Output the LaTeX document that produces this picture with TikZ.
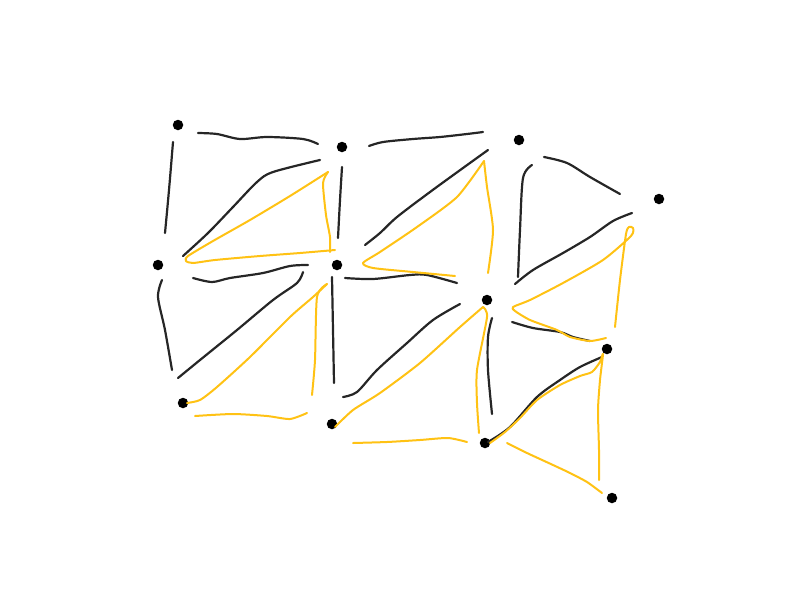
\documentclass[tikz,border=0pt]{standalone}
\begin{document}
\begin{tikzpicture}[x=1pt,y=-1pt,
  blk/.style={draw={rgb,255:red,38;green,38;blue,38},line width=2.2pt,line cap=round,line join=round},
  ylw/.style={draw={rgb,255:red,255;green,194;blue,20},line width=2pt,line cap=round,line join=round},
  dot/.style={circle,fill=black,inner sep=0pt,minimum size=10.5pt}]
\useasboundingbox (0,0) rectangle (800,600);
% dots
\node[dot] (p1) at (178,125) {};
\node[dot] (p2) at (342,147) {};
\node[dot] (p3) at (519,140) {};
\node[dot] (p4) at (659,199) {};
\node[dot] (p5) at (158,265) {};
\node[dot] (p6) at (337,265) {};
\node[dot] (p7) at (487,300) {};
\node[dot] (p8) at (607,349) {};
\node[dot] (p9) at (183,403) {};
\node[dot] (p10) at (332,424) {};
\node[dot] (p11) at (485,443) {};
\node[dot] (p12) at (612,498) {};
% black strokes
\draw[blk] plot[smooth,tension=0.5] coordinates {(198,133) (217,134) (240,139) (267,137) (303,139) (318,144)};
\draw[blk] plot[smooth,tension=0.5] coordinates {(173,142) (169,190) (165,233)};
\draw[blk] plot[smooth,tension=0.5] coordinates {(320,160) (273,172) (257,182) (233,207) (208,233) (183,256)};
\draw[blk] plot[smooth,tension=0.5] coordinates {(342,167) (340,200) (338,238)};
\draw[blk] plot[smooth,tension=0.5] coordinates {(369,146) (383,142) (413,139) (440,137) (467,134) (483,132)};
\draw[blk] plot[smooth,tension=0.5] coordinates {(488,150) (463,168) (430,192) (397,217) (380,233) (365,245)};
\draw[blk] plot[smooth,tension=0.5] coordinates {(532,165) (523,178) (520,230) (518,277)};
\draw[blk] plot[smooth,tension=0.5] coordinates {(544,157) (567,163) (590,177) (620,194)};
\draw[blk] plot[smooth,tension=0.5] coordinates {(632,213) (613,221) (590,237) (563,253) (533,270) (515,284)};
\draw[blk] plot[smooth,tension=0.5] coordinates {(193,278) (212,282) (230,278) (263,273) (290,266) (308,265)};
\draw[blk] plot[smooth,tension=0.5] coordinates {(162,280) (158,297) (165,330) (172,370)};
\draw[blk] plot[smooth,tension=0.5] coordinates {(303,272) (297,283) (273,300) (237,330) (200,360) (178,378)};
\draw[blk] plot[smooth,tension=0.5] coordinates {(332,277) (333,330) (334,383)};
\draw[blk] plot[smooth,tension=0.5] coordinates {(345,278) (373,279) (410,275) (427,275) (457,283)};
\draw[blk] plot[smooth,tension=0.5] coordinates {(460,304) (433,320) (407,343) (377,370) (357,392) (343,397)};
\draw[blk] plot[smooth,tension=0.5] coordinates {(492,318) (488,337) (488,370) (492,414)};
\draw[blk] plot[smooth,tension=0.5] coordinates {(512,322) (533,328) (560,332) (573,337) (590,341)};
\draw[blk] plot[smooth,tension=0.5] coordinates {(602,357) (580,367) (560,380) (537,397) (510,427) (488,442)};
% yellow strokes
\draw[ylw] plot[smooth,tension=0.4] coordinates {(335,250) (300,253) (260,256) (215,260) (193,263) (186,261) (188,256) (213,241) (250,220) (290,196) (328,172)};
\draw[ylw] plot[smooth,tension=0.4] coordinates {(328,172) (323,183) (326,215) (330,237) (330,252)};
\draw[ylw] plot[smooth,tension=0.4] coordinates {(484,161) (457,197) (417,227) (380,252) (363,263) (373,268) (413,272) (455,276)};
\draw[ylw] plot[smooth,tension=0.4] coordinates {(484,161) (487,187) (493,230) (488,273)};
\draw[ylw] plot[smooth,tension=0.4] coordinates {(615,327) (620,280) (626,234) (629,227) (633,228) (631,236) (603,260) (563,283) (530,300) (513,307) (515,311) (530,320) (557,330) (570,337) (590,341) (606,338)};
\draw[ylw] plot[smooth,tension=0.4] coordinates {(327,284) (313,297) (290,317) (250,357) (217,387) (200,400) (187,403)};
\draw[ylw] plot[smooth,tension=0.4] coordinates {(327,284) (317,297) (315,360) (312,395)};
\draw[ylw] plot[smooth,tension=0.4] coordinates {(195,416) (233,414) (267,416) (290,419) (307,413)};
\draw[ylw] plot[smooth,tension=0.4] coordinates {(483,307) (487,317) (477,370) (477,403) (479,433)};
\draw[ylw] plot[smooth,tension=0.4] coordinates {(483,307) (460,327) (420,363) (380,393) (353,410) (335,427)};
\draw[ylw] plot[smooth,tension=0.4] coordinates {(353,443) (387,442) (420,440) (448,438) (467,442)};
\draw[ylw] plot[smooth,tension=0.4] coordinates {(490,443) (505,432) (520,418) (537,400) (560,385) (580,376) (592,372) (600,362) (603,354) (600,380) (598,410) (599,450) (599,480)};
\draw[ylw] plot[smooth,tension=0.4] coordinates {(507,443) (527,453) (553,465) (570,473) (587,482) (602,493)};
\end{tikzpicture}
\end{document}
